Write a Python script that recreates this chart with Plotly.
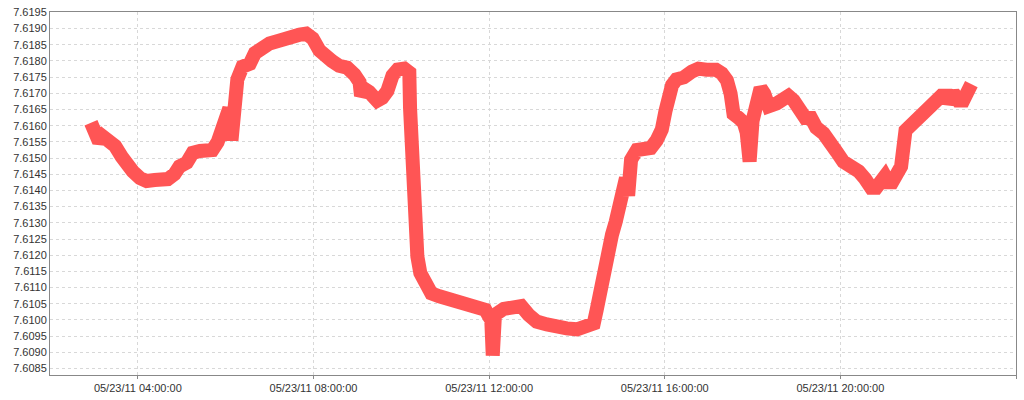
import plotly.graph_objects as go

times = [
    "02:56", "03:01", "03:07", "03:12", "03:19", "03:29", "03:38", "03:45", "03:53", "04:03",
    "04:12", "04:23", "04:33", "04:41", "04:50", "04:57", "05:07", "05:15", "05:25", "05:34",
    "05:42", "05:49", "05:55", "06:00", "06:05", "06:08", "06:11", "06:16", "06:23", "06:33",
    "06:40", "06:49", "07:00", "07:14", "07:27", "07:41", "07:50", "07:59", "08:08", "08:15",
    "08:25", "08:35", "08:46", "08:56", "09:03", "09:05", "09:10", "09:16", "09:27", "09:34",
    "09:41", "09:48", "09:55", "10:04", "10:11", "10:12", "10:14", "10:15", "10:18", "10:19",
    "10:22", "10:26", "10:31", "10:41", "10:52", "11:05", "11:16", "11:30", "11:44", "11:55",
    "12:00", "12:03", "12:05", "12:08", "12:20", "12:34", "12:44", "12:54", "13:05", "13:19",
    "13:33", "13:46", "14:00", "14:14", "14:23", "14:27", "14:31", "14:34", "14:41", "14:48",
    "14:53", "14:57", "15:01", "15:07", "15:10", "15:14", "15:22", "15:31", "15:41", "15:49",
    "15:56", "16:01", "16:05", "16:10", "16:16", "16:26", "16:37", "16:46", "16:57", "17:10",
    "17:18", "17:25", "17:30", "17:34", "17:41", "17:48", "17:52", "17:56", "18:00", "18:04",
    "18:11", "18:16", "18:22", "18:33", "18:42", "18:49", "18:56", "19:03", "19:12", "19:20",
    "19:27", "19:37", "19:44", "19:55", "20:04", "20:14", "20:25", "20:34", "20:42", "20:49",
    "20:55", "21:01", "21:08", "21:15", "21:23", "21:29", "21:33", "21:40", "21:46", "21:53",
    "22:00", "22:10", "22:18", "22:25", "22:27", "22:34", "22:41", "22:48", "22:55", "22:59",
]

values = [
    7.61609, 7.61585, 7.61550, 7.61567, 7.61555, 7.61537, 7.61504, 7.61474, 7.61459, 7.61438,
    7.61429, 7.61432, 7.61429, 7.61435, 7.61450, 7.61474, 7.61486, 7.61516, 7.61522, 7.61522,
    7.61525, 7.61549, 7.61588, 7.61624, 7.61654, 7.61555, 7.61713, 7.61743, 7.61782, 7.61791,
    7.61824, 7.61839, 7.61854, 7.61863, 7.61875, 7.61881, 7.61884, 7.61869, 7.61833, 7.61815,
    7.61800, 7.61785, 7.61779, 7.61758, 7.61734, 7.61692, 7.61713, 7.61704, 7.61677, 7.61686,
    7.61707, 7.61755, 7.61773, 7.61776, 7.61764, 7.61654, 7.61555, 7.61453, 7.61348, 7.61249,
    7.61196, 7.61145, 7.61118, 7.61082, 7.61073, 7.61064, 7.61049, 7.61040, 7.61037, 7.61031,
    7.61010, 7.61000, 7.60890, 7.61016, 7.61034, 7.61040, 7.61043, 7.61016, 7.60995, 7.60986,
    7.60974, 7.60974, 7.60971, 7.60980, 7.60989, 7.61031, 7.61088, 7.61109, 7.61211, 7.61264,
    7.61303, 7.61348, 7.61408, 7.61438, 7.61384, 7.61495, 7.61525, 7.61531, 7.61531, 7.61555,
    7.61588, 7.61645, 7.61690, 7.61725, 7.61743, 7.61749, 7.61767, 7.61776, 7.61773, 7.61773,
    7.61761, 7.61740, 7.61699, 7.61636, 7.61624, 7.61609, 7.61579, 7.61489, 7.61615, 7.61675,
    7.61716, 7.61699, 7.61660, 7.61669, 7.61678, 7.61692, 7.61678, 7.61645, 7.61624, 7.61624,
    7.61594, 7.61576, 7.61546, 7.61519, 7.61489, 7.61477, 7.61459, 7.61435, 7.61408, 7.61408,
    7.61438, 7.61444, 7.61414, 7.61435, 7.61474, 7.61585, 7.61594, 7.61615, 7.61630, 7.61639,
    7.61660, 7.61678, 7.61692, 7.61692, 7.61669, 7.61702, 7.61678, 7.61678, 7.61707, 7.61728,
]

day = "2011-05-23 "
x = [day + t for t in times]

fig = go.Figure()
fig.add_trace(go.Scatter(
    x=x, y=values, mode="lines",
    line=dict(color="#FF5555", width=14),
    showlegend=False,
))

axis_font = dict(family="Liberation Sans, Arial, sans-serif", size=11, color="#333333")

fig.update_layout(
    width=1024, height=400,
    margin=dict(l=50, r=8, t=6, b=20),
    paper_bgcolor="white", plot_bgcolor="white",
    xaxis=dict(
        type="date",
        range=["2011-05-23 02:00:00", "2011-05-24 00:00:00"],
        tick0="2011-05-23 00:00:00", dtick=4 * 3600 * 1000,
        tickformat="%m/%d/%y %H:%M:%S",
        showgrid=True, gridcolor="#D8D8D8", griddash="3px,3px", gridwidth=1,
        showline=True, linecolor="#888888", linewidth=1, mirror=True,
        ticks="outside", ticklen=3, tickcolor="#888888",
        tickfont=axis_font, zeroline=False,
    ),
    yaxis=dict(
        range=[7.6083, 7.61951],
        tick0=7.6085, dtick=0.0005, tickformat=".4f",
        showgrid=True, gridcolor="#D8D8D8", griddash="3px,3px", gridwidth=1,
        showline=True, linecolor="#888888", linewidth=1, mirror=True,
        ticks="", tickfont=axis_font, zeroline=False,
    ),
)

fig.write_html(
    "out.html",
    config={"displayModeBar": False},
    post_script="document.body.style.margin='0px';",
)
